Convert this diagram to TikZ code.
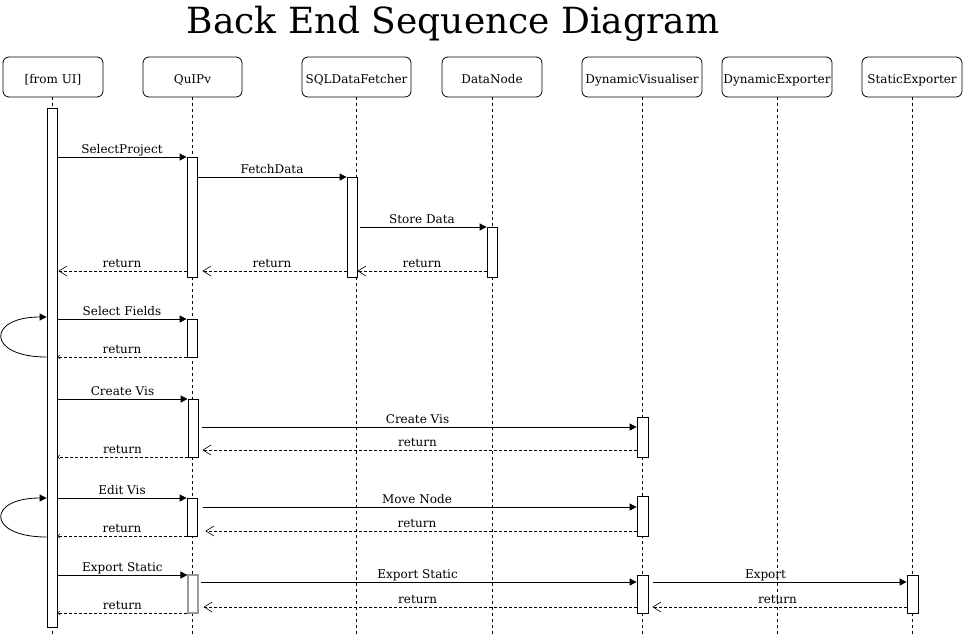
\documentclass[tikz,border=0pt]{standalone}
\usepackage{fontspec}
\setmainfont{DejaVu Serif}
\usetikzlibrary{arrows.meta}
\begin{document}
\begin{tikzpicture}[x=1pt,y=-1pt,
  part/.style={draw, rounded corners=6pt, minimum height=40pt, inner sep=0pt, line width=0.8pt, text height=12pt, text depth=0pt, font=\fontsize{12}{14}\selectfont},
  life/.style={dash pattern=on 3pt off 3pt, line width=0.7pt},
  act/.style={draw, fill=white, minimum width=10pt, inner sep=0pt, line width=0.8pt},
  msg/.style={line width=0.8pt, -{Triangle[length=7pt,width=7pt]}},
  ret/.style={line width=0.8pt, dash pattern=on 3pt off 2pt, -{Straight Barb[length=8pt,width=10pt,line width=0.6pt]}},
  rets/.style={line width=0.8pt, dash pattern=on 3pt off 2pt, -{Straight Barb[length=2pt,width=4pt,line width=0.5pt]}},
  lbl/.style={midway, anchor=base, yshift=3.5pt, inner sep=0pt, font=\fontsize{12}{14}\selectfont},
  loop/.style={line width=0.8pt, -{Triangle[length=7pt,width=7pt]}}
]
\useasboundingbox (0,0) rectangle (963,638);
\node[anchor=base, font=\fontsize{36}{40}\selectfont] (title) at (453,33) {Back End Sequence Diagram};

% participants
\node[part, minimum width=100pt] (ui) at (53,77) {[from UI]};
\node[part, minimum width=99pt] (qu) at (192.5,77) {QuIPv};
\node[part, minimum width=109pt] (sq) at (356.5,77) {SQLDataFetcher};
\node[part, minimum width=100pt] (dn) at (492,77) {DataNode};
\node[part, minimum width=120pt] (dv) at (642,77) {DynamicVisualiser};
\node[part, minimum width=110pt] (de) at (777,77) {DynamicExporter};
\node[part, minimum width=100pt] (se) at (912,77) {StaticExporter};

\coordinate (bot) at (0,634);
\draw[life] ([xshift=-1pt]ui.south) -- ([xshift=-1pt]ui.south |- bot);
\draw[life] (qu.south) -- (qu.south |- bot);
\draw[life] (sq.south) -- (sq.south |- bot);
\draw[life] (dn.south) -- (dn.south |- bot);
\draw[life] (dv.south) -- (dv.south |- bot);
\draw[life] (de.south) -- (de.south |- bot);
\draw[life] (se.south) -- (se.south |- bot);

% activation bars
\node[act, minimum height=519pt] (uiA) at (52,367.5) {};
\node[act, minimum height=120pt] (q1) at (192,217) {};
\node[act, minimum height=100pt] (s1) at (352,227) {};
\node[act, minimum height=50pt] (d1) at (492,252) {};
\node[act, minimum height=38pt] (q2) at (192,338) {};
\node[act, minimum height=58pt] (q3) at (193,428) {};
\node[act, minimum height=40pt, minimum width=11pt] (v1) at (642.5,437) {};
\node[act, minimum height=38pt] (q4) at (192,517) {};
\node[act, minimum height=40pt, minimum width=11pt] (v2) at (642.5,516) {};
\node[act, minimum height=38pt, draw=gray!80, line width=1.2pt] (q5) at (193,594) {};
\node[act, minimum height=38pt, minimum width=11pt] (v3) at (642.5,594) {};
\node[act, minimum height=38pt, minimum width=11pt] (e1) at (912.5,594) {};

% y levels
\foreach \n/\y in {a/157,b/177,c/227,d/271,e/319,f/357,g/399,h/427,i/450,j/457,k/498,l/507,m/531,n/536,o/575,p/582,q/607,r/613,s/317,t/537}
  \coordinate (y\n) at (0,\y);

% block 1
\draw[msg] (uiA.east |- ya) -- node[lbl]{SelectProject} (q1.west |- ya);
\draw[msg] (q1.east |- yb) -- node[lbl]{FetchData} (s1.west |- yb);
\draw[msg, shorten <=3pt] (s1.east |- yc) -- node[lbl]{Store Data} (d1.west |- yc);
\draw[ret] (d1.west |- yd) -- node[lbl]{return} (s1.east |- yd);
\draw[ret, shorten >=5pt] (s1.west |- yd) -- node[lbl]{return} (q1.east |- yd);
\draw[ret, shorten >=1pt] (q1.west |- yd) -- node[lbl]{return} (uiA.east |- yd);

% block 2
\draw[loop] (uiA.west |- yf) .. controls ([xshift=-60pt]uiA.west |- yf) and ([xshift=-60pt]uiA.west |- ys) .. (uiA.west |- ys);
\draw[msg] (uiA.east |- ye) -- node[lbl]{Select Fields} (q2.west |- ye);
\draw[rets] (q2.west |- yf) -- node[lbl]{return} (uiA.east |- yf);

% block 3
\draw[msg] (uiA.east |- yg) -- node[lbl]{Create Vis} (q3.west |- yg);
\draw[msg, shorten <=4pt] (q3.east |- yh) -- node[lbl]{Create Vis} (v1.west |- yh);
\draw[ret, shorten >=4pt] (v1.west |- yi) -- node[lbl]{return} (q3.east |- yi);
\draw[rets] (q3.west |- yj) -- node[lbl]{return} (uiA.east |- yj);

% block 4
\draw[loop] (uiA.west |- yt) .. controls ([xshift=-60pt]uiA.west |- yt) and ([xshift=-60pt]uiA.west |- yk) .. (uiA.west |- yk);
\draw[msg] (uiA.east |- yk) -- node[lbl]{Edit Vis} (q4.west |- yk);
\draw[msg, shorten <=6pt] (q4.east |- yl) -- node[lbl]{Move Node} (v2.west |- yl);
\draw[ret, shorten >=8pt] (v2.west |- ym) -- node[lbl]{return} (q4.east |- ym);
\draw[rets] (q4.west |- yn) -- node[lbl]{return} (uiA.east |- yn);

% block 5
\draw[msg] (uiA.east |- yo) -- node[lbl]{Export Static} (q5.west |- yo);
\draw[msg, shorten <=2pt] (q5.east |- yp) -- node[lbl]{Export Static} (v3.west |- yp);
\draw[msg, shorten <=5pt] (v3.east |- yp) -- node[lbl, xshift=-12pt]{Export} (e1.west |- yp);
\draw[ret, shorten >=4pt] (e1.west |- yq) -- node[lbl]{return} (v3.east |- yq);
\draw[ret, shorten >=5pt] (v3.west |- yq) -- node[lbl]{return} (q5.east |- yq);
\draw[rets] (q5.west |- yr) -- node[lbl]{return} (uiA.east |- yr);
\end{tikzpicture}
\end{document}
